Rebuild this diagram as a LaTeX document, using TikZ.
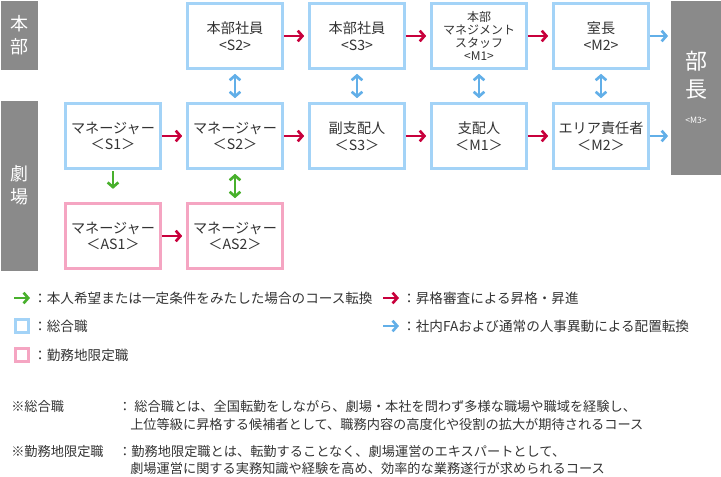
\documentclass[tikz,border=0pt]{standalone}
\usepackage{fontspec}
\setmainfont{Noto Sans CJK JP}
\usetikzlibrary{arrows.meta,positioning}
\definecolor{sogo}{HTML}{A3D3F7}
\definecolor{kinmu}{HTML}{F5A5C2}
\definecolor{bar}{HTML}{8A8A8A}
\definecolor{up}{HTML}{C8003C}
\definecolor{conv}{HTML}{48B02C}
\definecolor{move}{HTML}{62AFE8}
\definecolor{ink}{HTML}{333333}
\begin{document}
\begin{tikzpicture}[x=0.75pt,y=-0.75pt]
	\tikzstyle{Box}   = [draw, line width=2.2pt, fill=white, minimum width=71pt, minimum height=48.5pt, inner sep=0pt, align=center, text=ink, font=\fontsize{10.6}{12.6}\selectfont]
	\tikzstyle{S}     = [draw=sogo]
	\tikzstyle{AS}    = [draw=kinmu]
	\tikzstyle{Bar}   = [fill=bar, inner sep=0pt, text=white, align=center, font=\fontsize{13.5}{17}\selectfont]
	\tikzstyle{Arr}   = [line width=2pt, -{Straight Barb[length=3.5pt,width=8pt]}]
	\tikzstyle{DArr}  = [line width=2pt, {Straight Barb[length=3.5pt,width=8pt]}-{Straight Barb[length=3.5pt,width=8pt]}]
	\tikzstyle{Txt}   = [anchor=west, inner sep=0pt, text=ink, font=\fontsize{10.2}{11}\selectfont]
	\tikzstyle{Note}  = [anchor=west, inner sep=0pt, text=ink, font=\fontsize{9.9}{11}\selectfont]

	\useasboundingbox (0,0) rectangle (721,476);

	% side bars
	\node (hq) [Bar, minimum width=27.75pt, minimum height=51.75pt] at (19.5,35.5) {本\\部};
	\node (th) [Bar, minimum width=27.75pt, minimum height=127.5pt] at (19.5,185.5) {劇\\場};
	\node (bc) [Bar, minimum width=37.5pt, minimum height=130.5pt, font=\fontsize{16.5}{21}\selectfont] at (696,87.5) {部\\長\\[-2pt]{\fontsize{6.5}{8}\selectfont <M3>}};

	% top row
	\node (h2) [Box, S] at (235,36) {本部社員\\<S2>};
	\node (h3) [Box, S] at (357,36) {本部社員\\<S3>};
	\node (h4) [Box, S, font=\fontsize{9}{9.9}\selectfont] at (479,36) {本部\\マネジメント\\スタッフ\\<M1>};
	\node (h5) [Box, S] at (601,36) {室長\\<M2>};

	% middle row
	\node (t1) [Box, S] at (113,136) {マネージャー\\＜S1＞};
	\node (t2) [Box, S] at (235,136) {マネージャー\\＜S2＞};
	\node (t3) [Box, S] at (357,136) {副支配人\\＜S3＞};
	\node (t4) [Box, S] at (479,136) {支配人\\＜M1＞};
	\node (t5) [Box, S] at (601,136) {エリア責任者\\＜M2＞};

	% bottom row
	\node (a1) [Box, AS] at (113,236) {マネージャー\\＜AS1＞};
	\node (a2) [Box, AS] at (235,236) {マネージャー\\＜AS2＞};

	% promotion
	\draw [Arr, up, shorten >=3pt] (h2) -- (h3);
	\draw [Arr, up, shorten >=3pt] (h3) -- (h4);
	\draw [Arr, up, shorten >=3pt] (h4) -- (h5);
	\draw [Arr, up, shorten >=3pt] (t1) -- (t2);
	\draw [Arr, up, shorten >=3pt] (t2) -- (t3);
	\draw [Arr, up, shorten >=3pt] (t3) -- (t4);
	\draw [Arr, up, shorten >=3pt] (t4) -- (t5);
	\draw [Arr, up, shorten >=3pt] (a1) -- (a2);
	\draw [Arr, move, shorten >=2pt] (h5.east) -- (h5.east -| bc.west);
	\draw [Arr, move, shorten >=2pt] (t5.east) -- (t5.east -| bc.west);

	% transfers
	\foreach \c in {2,3,4,5}
		\draw [DArr, move, shorten >=3pt, shorten <=3pt] (h\c) -- (t\c);
	\draw [Arr, conv, shorten >=10pt, shorten <=1pt] (t1) -- (a1);
	\draw [DArr, conv, shorten >=3pt, shorten <=3pt] (t2) -- (a2);

	% legend
	\coordinate (lg1) at (14,298);
	\coordinate (lg1e) at (30,298);
	\draw [Arr, conv] (lg1) -- (lg1e);
	\node (lgt1) [Txt] at (33,298) {：本人希望または一定条件をみたした場合のコース転換};
	\coordinate (lr1) at (383,298);
	\coordinate (lr1e) at (399,298);
	\draw [Arr, up] (lr1) -- (lr1e);
	\node (lrt1) [Txt] at (402,298) {：昇格審査による昇格・昇進};
	\node (lgb) [draw=sogo, line width=2.2pt, minimum size=9.5pt, inner sep=0pt] at (22,326) {};
	\node (lgt2) [Txt] at (33,326) {：総合職};
	\coordinate (lr2) at (383,326);
	\coordinate (lr2e) at (399,326);
	\draw [Arr, move] (lr2) -- (lr2e);
	\node (lrt2) [Txt] at (402,326) {：社内FAおよび通常の人事異動による配置転換};
	\node (lpb) [draw=kinmu, line width=2.2pt, minimum size=9.5pt, inner sep=0pt] at (22,355) {};
	\node (lgt3) [Txt] at (33,355) {：勤務地限定職};

	% notes
	\node (n1) [Note] at (11,406) {※総合職};
	\node (n1a) [Note] at (118,406) {：\ 総合職とは、全国転勤をしながら、劇場・本社を問わず多様な職場や職域を経験し、};
	\node (n1b) [Note] at (130,424) {上位等級に昇格する候補者として、職務内容の高度化や役割の拡大が期待されるコース};
	\node (n2) [Note] at (11,451) {※勤務地限定職};
	\node (n2a) [Note] at (118,451) {：勤務地限定職とは、転勤することなく、劇場運営のエキスパートとして、};
	\node (n2b) [Note] at (130,468) {劇場運営に関する実務知識や経験を高め、効率的な業務遂行が求められるコース};
\end{tikzpicture}
\end{document}
